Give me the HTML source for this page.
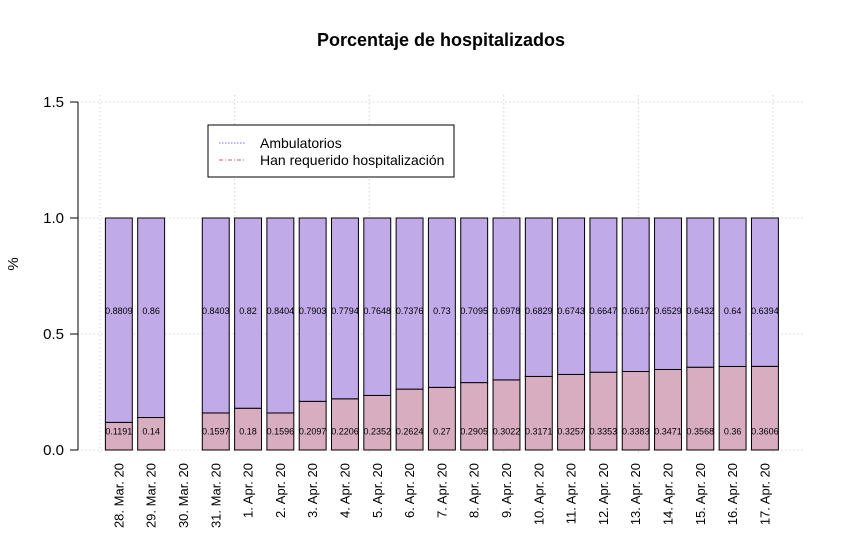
<!DOCTYPE html>
<html><head><meta charset="utf-8"><style>
body{margin:0;background:#fff;}
text{font-family:"Liberation Sans",sans-serif;}
</style></head><body>
<svg id="chart" width="845" height="548" xmlns="http://www.w3.org/2000/svg">
<text x="441" y="46" text-anchor="middle" font-size="18" font-weight="bold">Porcentaje de hospitalizados</text>
<text transform="translate(18,264) rotate(-90)" text-anchor="middle" font-size="15">%</text>
<g id="grid"></g><g id="bars"></g><g id="axes"></g>
<g>
<rect x="208" y="125" width="246" height="52" fill="#fff" stroke="#000" stroke-width="1"/>
<line x1="219" y1="143" x2="246" y2="143" stroke="#7b68ee" stroke-dasharray="1.5,1.5"/>
<text x="260" y="148" font-size="14">Ambulatorios</text>
<line x1="219" y1="160" x2="246" y2="160" stroke="#c06080" stroke-dasharray="4,2,1,2"/>
<text x="260" y="165" font-size="14">Han requerido hospitalización</text>
</g>
</svg>
<script>
const categories=["28. Mar. 20","29. Mar. 20","30. Mar. 20","31. Mar. 20","1. Apr. 20","2. Apr. 20","3. Apr. 20","4. Apr. 20","5. Apr. 20","6. Apr. 20","7. Apr. 20","8. Apr. 20","9. Apr. 20","10. Apr. 20","11. Apr. 20","12. Apr. 20","13. Apr. 20","14. Apr. 20","15. Apr. 20","16. Apr. 20","17. Apr. 20"];
const hospitalizados=[0.1191,0.14,null,0.1597,0.18,0.1596,0.2097,0.2206,0.2352,0.2624,0.27,0.2905,0.3022,0.3171,0.3257,0.3353,0.3383,0.3471,0.3568,0.36,0.3606];
const ambulatorios=[0.8809,0.86,null,0.8403,0.82,0.8404,0.7903,0.7794,0.7648,0.7376,0.73,0.7095,0.6978,0.6829,0.6743,0.6647,0.6617,0.6529,0.6432,0.64,0.6394];
const yTicks=[0,0.5,1,1.5];
const yTickLabels=["0.0","0.5","1.0","1.5"];
const xGridUnits=[0,5,10,15,20,25];

const NS="http://www.w3.org/2000/svg";
const y=v=>450-v*232;
const xu=u=>100+u*26.92;
function mk(tag,attrs,parent){const e=document.createElementNS(NS,tag);for(const k in attrs)e.setAttribute(k,attrs[k]);parent.appendChild(e);return e;}
const grid=document.getElementById('grid'),bars=document.getElementById('bars'),axes=document.getElementById('axes');
yTicks.forEach((t,i)=>{
  const g=mk('line',{x1:81,x2:805,y1:y(t),y2:y(t),stroke:'#d3d3d3','stroke-dasharray':'1.5,2.5'},grid);
  
  
  const tk=mk('line',{x1:70,x2:78,y1:y(t),y2:y(t),stroke:'#000'},axes);
  
  
  const lb=mk('text',{x:64,y:y(t)+5,'text-anchor':'end','font-size':15},axes);
  lb.textContent=yTickLabels[i];
  
  
});
const ax=mk('line',{x1:78,x2:78,y1:y(0),y2:y(1.5),stroke:'#000'},axes);


xGridUnits.forEach(u=>{
  const g=mk('line',{x1:xu(u),x2:xu(u),y1:95,y2:455,stroke:'#d3d3d3','stroke-dasharray':'1.5,2.5'},grid);
  
  
});
categories.forEach((c,i)=>{
  const cx=xu(0.7+1.2*i), w=26.92, x0=cx-w/2;
  const lb=mk('text',{transform:`translate(${cx+4.5},${463}) rotate(-90)`,'text-anchor':'end','font-size':13},axes);
  lb.textContent=c;
  
  
  if(hospitalizados[i]==null)return;
  const h=hospitalizados[i],a=ambulatorios[i];
  const rh=mk('rect',{x:x0,y:y(h),width:w,height:y(0)-y(h),fill:'#d8adc0',stroke:'#000','stroke-width':1},bars);
  
  
  const ra=mk('rect',{x:x0,y:y(h+a),width:w,height:y(h)-y(h+a),fill:'#c0aae8',stroke:'#000','stroke-width':1},bars);
  
  
  const t1=mk('text',{x:cx,y:y(0.08)+3,'text-anchor':'middle','font-size':9},bars);
  t1.textContent=String(h);
  
  
  const t2=mk('text',{x:cx,y:y(0.6)+3,'text-anchor':'middle','font-size':9},bars);
  t2.textContent=String(a);
  
  
});
</script>
</body></html>
